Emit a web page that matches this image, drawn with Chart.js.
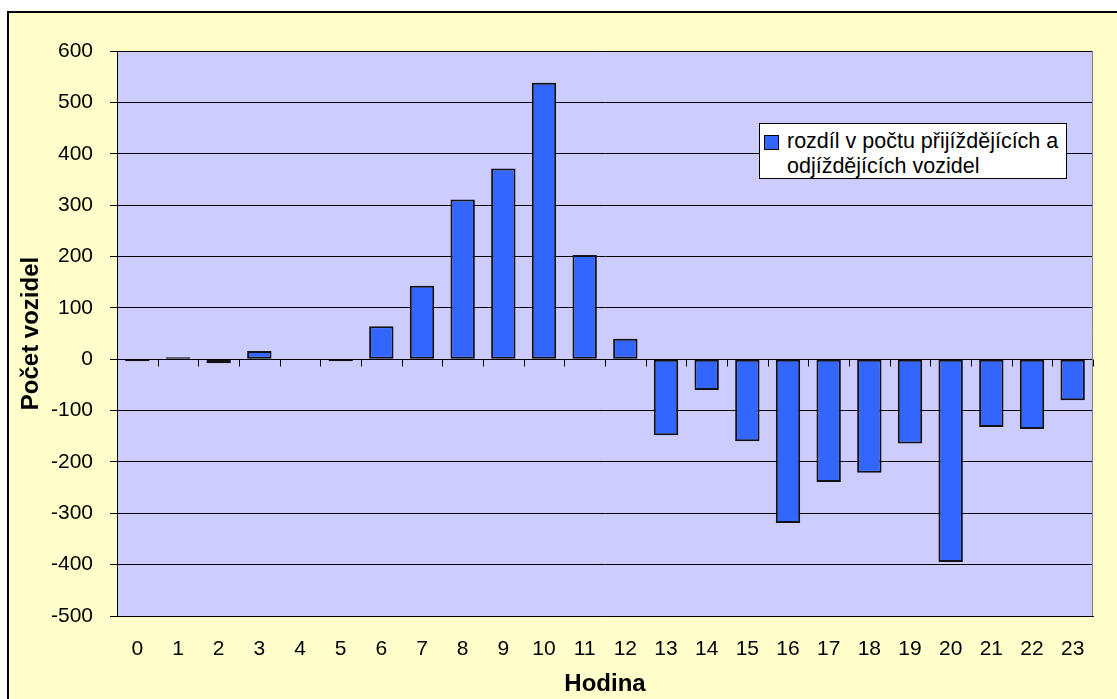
<!DOCTYPE html>
<html>
<head>
<meta charset="utf-8">
<title>Rozdíl v počtu přijíždějících a odjíždějících vozidel</title>
<style>
body {
	margin: 0;
	background: white;
}
.chartBox {
	position: relative;
	width: 1117px;
	height: 699px;
}
.legendBox {
	position: absolute;
	left: 759px;
	top: 123px;
	width: 306px;
	height: 54px;
	background: white;
	border: solid 1px black;
	font: 21.5px "Liberation Sans", Arial, sans-serif;
	line-height: 25px;
	color: black;
}
.legendBox .marker {
	position: absolute;
	left: 4px;
	top: 11px;
	width: 13px;
	height: 13px;
	background: #3366ff;
	border: solid 1px black;
}
.legendBox .text {
	position: absolute;
	left: 27px;
	top: 5px;
	white-space: nowrap;
}
</style>
</head>
<body>
<div class="chartBox">
	<canvas id="myChart" width="1117" height="699"></canvas>
	<div class="legendBox">
		<div class="marker"></div>
		<div class="text">rozdíl v počtu přijíždějících a<br>odjíždějících vozidel</div>
	</div>
</div>
<script src="https://cdn.jsdelivr.net/npm/chart.js@4.4.1/dist/chart.umd.min.js"></script>
<script>

// hours on the x axis
const hours = ['0', '1', '2', '3', '4', '5', '6', '7', '8', '9', '10', '11',
               '12', '13', '14', '15', '16', '17', '18', '19', '20', '21', '22', '23'];

// arriving minus departing vehicles
const difference = [-4, 4, -8, 16, 0, -4, 64, 143, 311, 371, 538, 203,
                    40, -148, -60, -160, -319, -239, -221, -164, -395, -132, -136, -80];

const yMin = -500;
const yMax = 600;
const yStep = 100;

const seriesLabel = 'rozdíl v počtu přijíždějících a odjíždějících vozidel';
const xTitle = 'Hodina';
const yTitle = 'Počet vozidel';

const fontFamily = '"Liberation Sans", Arial, sans-serif';

// yellow frame, lilac plot area, grey plot border and the tick marks on the zero line
const excelLook = {
    id: 'excelLook',
    beforeDraw(chart) {
        const ctx = chart.ctx;
        const a = chart.chartArea;
        ctx.save();
        ctx.fillStyle = 'white';
        ctx.fillRect(0, 0, chart.width, chart.height);
        ctx.fillStyle = '#ffffcc';
        ctx.fillRect(8, 12, chart.width, chart.height);
        ctx.strokeStyle = 'black';
        ctx.lineWidth = 2;
        ctx.beginPath();
        ctx.moveTo(8, chart.height + 2);
        ctx.lineTo(8, 12);
        ctx.lineTo(chart.width + 2, 12);
        ctx.stroke();
        ctx.fillStyle = '#ccccff';
        ctx.fillRect(a.left, a.top, a.right - a.left, a.bottom - a.top);
        ctx.restore();
    },
    afterDatasetsDraw(chart) {
        const ctx = chart.ctx;
        const a = chart.chartArea;
        const x = chart.scales.x;
        const y0 = Math.round(chart.scales.y.getPixelForValue(0)) + 0.5;
        const half = (x.getPixelForValue(1) - x.getPixelForValue(0)) / 2;
        ctx.save();
        ctx.strokeStyle = 'black';
        ctx.lineWidth = 1;
        ctx.beginPath();
        for (let i = 0; i <= hours.length; i++) {
            const px = Math.round(x.getPixelForValue(i) - half) + 0.5;
            ctx.moveTo(px, y0);
            ctx.lineTo(px, y0 + 7);
        }
        ctx.stroke();
        ctx.strokeStyle = '#808080';
        ctx.beginPath();
        ctx.moveTo(Math.round(a.right) - 0.5, a.top);
        ctx.lineTo(Math.round(a.right) - 0.5, a.bottom);
        ctx.stroke();
        ctx.restore();
    }
};

const data = {
    labels: hours,
    datasets: [{
        label: seriesLabel,
        data: difference,
        backgroundColor: '#3366ff',
        borderColor: '#111',
        borderWidth: 2,
        borderSkipped: false,
        categoryPercentage: 1,
        barPercentage: 0.6
    }]
};

const config = {
    type: 'bar',
    data,
    plugins: [excelLook],
    options: {
        responsive: false,
        animation: false,
        layout: {
            padding: { top: 51, right: 24, bottom: 0, left: 0 }
        },
        plugins: {
            legend: { display: false },
            tooltip: { enabled: false }
        },
        scales: {
            x: {
                grid: { display: false, drawTicks: false },
                border: { display: true, color: 'black', width: 1 },
                ticks: {
                    color: 'black',
                    padding: 21,
                    maxRotation: 0,
                    font: { family: fontFamily, size: 21 }
                },
                title: {
                    display: true,
                    text: xTitle,
                    color: 'black',
                    padding: { top: 0, bottom: 0 },
                    font: { family: fontFamily, size: 24, weight: 'bold' }
                },
                afterFit(scale) {
                    scale.height = 83;
                    scale.paddingLeft = 0;
                    scale.paddingRight = 0;
                }
            },
            y: {
                min: yMin,
                max: yMax,
                ticks: {
                    stepSize: yStep,
                    color: 'black',
                    padding: 17,
                    font: { family: fontFamily, size: 21 }
                },
                grid: {
                    color: 'black',
                    lineWidth: 1,
                    tickLength: 7
                },
                border: { display: true, color: 'black', width: 1 },
                title: {
                    display: true,
                    text: yTitle,
                    color: 'black',
                    padding: { top: 17, bottom: 0 },
                    font: { family: fontFamily, size: 24, weight: 'bold' }
                },
                afterFit(scale) {
                    scale.width = 117;
                    scale.paddingTop = 0;
                    scale.paddingBottom = 0;
                }
            }
        }
    }
};

const myChart = new Chart(document.getElementById('myChart'), config);

</script>
</body>
</html>
